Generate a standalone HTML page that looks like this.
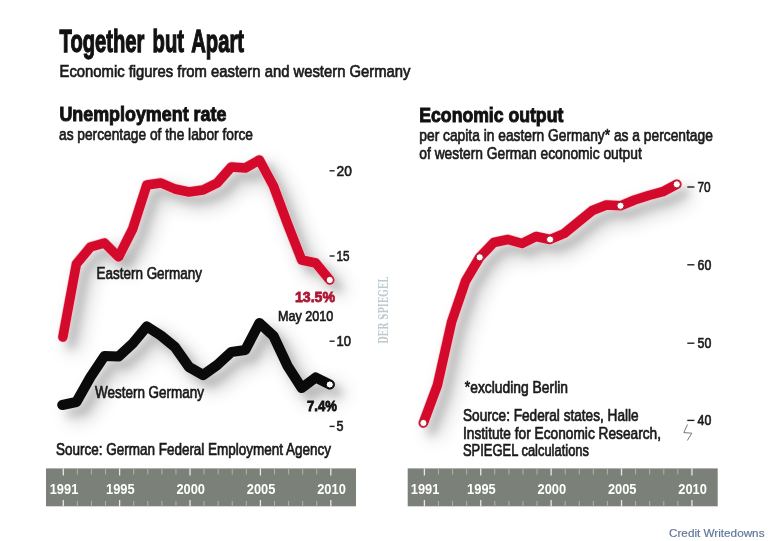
<!DOCTYPE html>
<html lang="en"><head><meta charset="utf-8"><title>Together but Apart</title>
<style>
html,body{margin:0;padding:0;background:#fff;}
body{width:768px;height:541px;overflow:hidden;font-family:"Liberation Sans",sans-serif;}
svg{display:block;}
</style></head><body>
<svg width="768" height="541" viewBox="0 0 768 541" font-family="'Liberation Sans', sans-serif">
<defs>
<filter id="sh" x="-40%" y="-40%" width="190%" height="190%">
<feGaussianBlur in="SourceAlpha" stdDeviation="4" result="b1"/>
<feOffset in="b1" dx="7.5" dy="7.5" result="o1"/>
<feComponentTransfer in="o1" result="s1"><feFuncA type="linear" slope="0.17"/></feComponentTransfer>
<feGaussianBlur in="SourceAlpha" stdDeviation="9.5" result="b2"/>
<feOffset in="b2" dx="10" dy="10" result="o2"/>
<feComponentTransfer in="o2" result="s2"><feFuncA type="linear" slope="0.27"/></feComponentTransfer>
<feMerge><feMergeNode in="s2"/><feMergeNode in="s1"/></feMerge>
</filter>
</defs>
<rect width="768" height="541" fill="#ffffff"/>
<!-- shadows -->
<g fill="none" stroke="#000" stroke-width="9.7" stroke-linejoin="round" stroke-linecap="round" filter="url(#sh)">
<polyline points="62.9,337.0 76.4,264.0 90.5,247.0 104.5,243.0 118.6,257.0 132.7,229.0 146.8,185.0 160.9,183.0 174.9,189.0 189.0,192.0 203.1,190.0 217.2,183.0 231.3,167.0 245.3,168.0 259.4,160.0 273.5,186.0 287.6,224.0 301.7,260.0 315.7,263.0 329.8,280.0"/>
<polyline points="62.3,405.0 76.4,402.0 90.5,377.0 104.5,356.0 118.6,356.5 132.7,343.5 146.8,326.5 160.9,335.5 174.9,347.0 189.0,367.0 203.1,375.0 217.2,365.0 231.3,352.0 245.3,350.0 259.4,323.0 273.5,336.0 287.6,366.0 301.7,388.0 315.7,377.5 329.8,384.5"/>
<polyline points="423.4,423.0 437.5,385.0 451.6,322.0 465.6,281.0 479.7,257.3 493.8,242.5 507.9,239.5 522.0,243.5 536.0,236.5 550.1,239.5 564.2,233.5 578.3,222.0 592.4,210.5 606.4,205.0 620.5,205.8 634.6,200.0 648.7,195.5 662.8,191.7 676.8,184.3"/>
</g>
<!-- titles -->
<text x="59.6" y="52.3" font-size="32" font-weight="bold" fill="#111" stroke="#111" stroke-width="1.3" textLength="184.4" lengthAdjust="spacingAndGlyphs" word-spacing="4">Together but Apart</text>
<text x="59.5" y="76.8" font-size="17" font-weight="normal" fill="#1a1a1a" stroke="#1a1a1a" stroke-width="0.7" textLength="351" lengthAdjust="spacingAndGlyphs" >Economic figures from eastern and western Germany</text>
<text x="59.4" y="120.8" font-size="21" font-weight="bold" fill="#111" stroke="#111" stroke-width="1.0" textLength="167" lengthAdjust="spacingAndGlyphs" >Unemployment rate</text>
<text x="59" y="140" font-size="17" font-weight="normal" fill="#1a1a1a" stroke="#1a1a1a" stroke-width="0.7" textLength="194" lengthAdjust="spacingAndGlyphs" >as percentage of the labor force</text>
<text x="419.3" y="121.6" font-size="21" font-weight="bold" fill="#111" stroke="#111" stroke-width="1.0" textLength="144" lengthAdjust="spacingAndGlyphs" >Economic output</text>
<text x="419.3" y="140.5" font-size="17" font-weight="normal" fill="#1a1a1a" stroke="#1a1a1a" stroke-width="0.7" textLength="293.5" lengthAdjust="spacingAndGlyphs" >per capita in eastern Germany* as a percentage</text>
<text x="419.3" y="158.5" font-size="17" font-weight="normal" fill="#1a1a1a" stroke="#1a1a1a" stroke-width="0.7" textLength="222.5" lengthAdjust="spacingAndGlyphs" >of western German economic output</text>
<!-- y axis labels left -->
<rect x="329.6" y="170.10" width="5.00" height="1.4" fill="#222"/><text x="336.6" y="175.8" font-size="14" font-weight="normal" fill="#1a1a1a" stroke="#1a1a1a" stroke-width="0.6" textLength="15.3" lengthAdjust="spacingAndGlyphs" >20</text>
<rect x="329.6" y="255.30" width="5.00" height="1.4" fill="#222"/><text x="336.6" y="261.0" font-size="14" font-weight="normal" fill="#1a1a1a" stroke="#1a1a1a" stroke-width="0.6" textLength="13" lengthAdjust="spacingAndGlyphs" >15</text>
<rect x="329.6" y="340.50" width="5.00" height="1.4" fill="#222"/><text x="336.6" y="346.2" font-size="14" font-weight="normal" fill="#1a1a1a" stroke="#1a1a1a" stroke-width="0.6" textLength="14.5" lengthAdjust="spacingAndGlyphs" >10</text>
<rect x="329.6" y="425.70" width="5.00" height="1.4" fill="#222"/><text x="336.6" y="431.4" font-size="14" font-weight="normal" fill="#1a1a1a" stroke="#1a1a1a" stroke-width="0.6" textLength="7" lengthAdjust="spacingAndGlyphs" >5</text>
<!-- y axis labels right -->
<rect x="687.3" y="186.30" width="7.10" height="1.4" fill="#222"/><text x="697.5" y="192.0" font-size="14" font-weight="normal" fill="#1a1a1a" stroke="#1a1a1a" stroke-width="0.6" textLength="13.2" lengthAdjust="spacingAndGlyphs" >70</text>
<rect x="687.3" y="264.10" width="7.10" height="1.4" fill="#222"/><text x="697.5" y="269.8" font-size="14" font-weight="normal" fill="#1a1a1a" stroke="#1a1a1a" stroke-width="0.6" textLength="13.8" lengthAdjust="spacingAndGlyphs" >60</text>
<rect x="687.3" y="342.50" width="7.10" height="1.4" fill="#222"/><text x="697.5" y="348.2" font-size="14" font-weight="normal" fill="#1a1a1a" stroke="#1a1a1a" stroke-width="0.6" textLength="13.8" lengthAdjust="spacingAndGlyphs" >50</text>
<rect x="687.3" y="419.70" width="7.10" height="1.4" fill="#222"/><text x="697.5" y="425.4" font-size="14" font-weight="normal" fill="#1a1a1a" stroke="#1a1a1a" stroke-width="0.6" textLength="13.8" lengthAdjust="spacingAndGlyphs" >40</text>
<path d="M687.5 424.5 L683.8 432.6 L691.8 433.2 L687.3 440.5" fill="none" stroke="#6a6a6a" stroke-width="0.9"/>
<!-- lines -->
<g fill="none" stroke-linejoin="round" stroke-linecap="round">
<polyline points="62.9,337.0 76.4,264.0 90.5,247.0 104.5,243.0 118.6,257.0 132.7,229.0 146.8,185.0 160.9,183.0 174.9,189.0 189.0,192.0 203.1,190.0 217.2,183.0 231.3,167.0 245.3,168.0 259.4,160.0 273.5,186.0 287.6,224.0 301.7,260.0 315.7,263.0 329.8,280.0" stroke="#f9c4c9" stroke-width="10.9"/>
<polyline points="62.9,337.0 76.4,264.0 90.5,247.0 104.5,243.0 118.6,257.0 132.7,229.0 146.8,185.0 160.9,183.0 174.9,189.0 189.0,192.0 203.1,190.0 217.2,183.0 231.3,167.0 245.3,168.0 259.4,160.0 273.5,186.0 287.6,224.0 301.7,260.0 315.7,263.0 329.8,280.0" stroke="#d30a2b" stroke-width="9.5"/>
<polyline points="62.3,405.0 76.4,402.0 90.5,377.0 104.5,356.0 118.6,356.5 132.7,343.5 146.8,326.5 160.9,335.5 174.9,347.0 189.0,367.0 203.1,375.0 217.2,365.0 231.3,352.0 245.3,350.0 259.4,323.0 273.5,336.0 287.6,366.0 301.7,388.0 315.7,377.5 329.8,384.5" stroke="#0a0a0a" stroke-width="10.2"/>
<polyline points="423.4,423.0 437.5,385.0 451.6,322.0 465.6,281.0 479.7,257.3 493.8,242.5 507.9,239.5 522.0,243.5 536.0,236.5 550.1,239.5 564.2,233.5 578.3,222.0 592.4,210.5 606.4,205.0 620.5,205.8 634.6,200.0 648.7,195.5 662.8,191.7 676.8,184.3" stroke="#f9c4c9" stroke-width="10.9"/>
<polyline points="423.4,423.0 437.5,385.0 451.6,322.0 465.6,281.0 479.7,257.3 493.8,242.5 507.9,239.5 522.0,243.5 536.0,236.5 550.1,239.5 564.2,233.5 578.3,222.0 592.4,210.5 606.4,205.0 620.5,205.8 634.6,200.0 648.7,195.5 662.8,191.7 676.8,184.3" stroke="#d30a2b" stroke-width="9.5"/>
</g>
<circle cx="329.8" cy="280.0" r="3.6" fill="#fff" stroke="#a8172f" stroke-width="1"/>
<circle cx="329.8" cy="384.5" r="3.6" fill="#fff" stroke="#000" stroke-width="1"/>
<circle cx="423.4" cy="423.0" r="3.6" fill="#fff" stroke="#a8172f" stroke-width="1"/><circle cx="479.7" cy="257.3" r="3.6" fill="#fff" stroke="#a8172f" stroke-width="1"/><circle cx="550.1" cy="239.5" r="3.6" fill="#fff" stroke="#a8172f" stroke-width="1"/><circle cx="620.5" cy="205.8" r="3.6" fill="#fff" stroke="#a8172f" stroke-width="1"/><circle cx="676.8" cy="184.3" r="3.6" fill="#fff" stroke="#a8172f" stroke-width="1"/>
<!-- labels -->
<text x="96.5" y="279" font-size="16.3" font-weight="normal" fill="#1a1a1a" stroke="#1a1a1a" stroke-width="0.7" textLength="105.5" lengthAdjust="spacingAndGlyphs" >Eastern Germany</text>
<text x="295" y="302" font-size="15.5" font-weight="bold" fill="#ad1834" stroke="#ad1834" stroke-width="0.85" textLength="40" lengthAdjust="spacingAndGlyphs" >13.5%</text>
<text x="278" y="321.3" font-size="15.5" font-weight="normal" fill="#1a1a1a" stroke="#1a1a1a" stroke-width="0.7" textLength="55.3" lengthAdjust="spacingAndGlyphs" >May 2010</text>
<text x="95" y="398" font-size="16.3" font-weight="normal" fill="#1a1a1a" stroke="#1a1a1a" stroke-width="0.7" textLength="109" lengthAdjust="spacingAndGlyphs" >Western Germany</text>
<text x="307" y="410.8" font-size="15.5" font-weight="bold" fill="#111" stroke="#111" stroke-width="0.85" textLength="29.8" lengthAdjust="spacingAndGlyphs" >7.4%</text>
<text x="56" y="455" font-size="16.5" font-weight="normal" fill="#1a1a1a" stroke="#1a1a1a" stroke-width="0.7" textLength="275" lengthAdjust="spacingAndGlyphs" >Source: German Federal Employment Agency</text>
<text x="464.8" y="393" font-size="16.5" font-weight="normal" fill="#1a1a1a" stroke="#1a1a1a" stroke-width="0.7" textLength="103.2" lengthAdjust="spacingAndGlyphs" >*excluding Berlin</text>
<text x="463" y="421.4" font-size="16.5" font-weight="normal" fill="#1a1a1a" stroke="#1a1a1a" stroke-width="0.7" textLength="175.6" lengthAdjust="spacingAndGlyphs" >Source: Federal states, Halle</text>
<text x="463" y="439" font-size="16.5" font-weight="normal" fill="#1a1a1a" stroke="#1a1a1a" stroke-width="0.7" textLength="198" lengthAdjust="spacingAndGlyphs" >Institute for Economic Research,</text>
<text x="463" y="455.5" font-size="16.5" font-weight="normal" fill="#1a1a1a" stroke="#1a1a1a" stroke-width="0.7" textLength="126" lengthAdjust="spacingAndGlyphs" >SPIEGEL calculations</text>
<text transform="translate(387.8,343.8) rotate(-90)" font-size="12.5" font-weight="bold" fill="#bfcacf" textLength="67" lengthAdjust="spacingAndGlyphs" font-family="'DejaVu Serif', 'Liberation Serif', serif">DER SPIEGEL</text>
<!-- axes -->
<rect x="46" y="468.4" width="310" height="37.9" fill="#7b8078"/>
<rect x="62.65" y="468.4" width="1.3" height="7.1" fill="#e6e8e3"/>
<rect x="62.65" y="500.0" width="1.3" height="6.5" fill="#e6e8e3"/>
<rect x="76.83" y="468.4" width="1.1" height="6.1" fill="#aab0a7"/>
<rect x="76.83" y="501.0" width="1.1" height="5.5" fill="#aab0a7"/>
<rect x="90.91" y="468.4" width="1.1" height="6.1" fill="#aab0a7"/>
<rect x="90.91" y="501.0" width="1.1" height="5.5" fill="#aab0a7"/>
<rect x="104.99" y="468.4" width="1.1" height="6.1" fill="#aab0a7"/>
<rect x="104.99" y="501.0" width="1.1" height="5.5" fill="#aab0a7"/>
<rect x="118.97" y="468.4" width="1.3" height="7.1" fill="#e6e8e3"/>
<rect x="118.97" y="500.0" width="1.3" height="6.5" fill="#e6e8e3"/>
<rect x="133.15" y="468.4" width="1.1" height="6.1" fill="#aab0a7"/>
<rect x="133.15" y="501.0" width="1.1" height="5.5" fill="#aab0a7"/>
<rect x="147.23" y="468.4" width="1.1" height="6.1" fill="#aab0a7"/>
<rect x="147.23" y="501.0" width="1.1" height="5.5" fill="#aab0a7"/>
<rect x="161.31" y="468.4" width="1.1" height="6.1" fill="#aab0a7"/>
<rect x="161.31" y="501.0" width="1.1" height="5.5" fill="#aab0a7"/>
<rect x="175.39" y="468.4" width="1.1" height="6.1" fill="#aab0a7"/>
<rect x="175.39" y="501.0" width="1.1" height="5.5" fill="#aab0a7"/>
<rect x="189.37" y="468.4" width="1.3" height="7.1" fill="#e6e8e3"/>
<rect x="189.37" y="500.0" width="1.3" height="6.5" fill="#e6e8e3"/>
<rect x="203.55" y="468.4" width="1.1" height="6.1" fill="#aab0a7"/>
<rect x="203.55" y="501.0" width="1.1" height="5.5" fill="#aab0a7"/>
<rect x="217.63" y="468.4" width="1.1" height="6.1" fill="#aab0a7"/>
<rect x="217.63" y="501.0" width="1.1" height="5.5" fill="#aab0a7"/>
<rect x="231.71" y="468.4" width="1.1" height="6.1" fill="#aab0a7"/>
<rect x="231.71" y="501.0" width="1.1" height="5.5" fill="#aab0a7"/>
<rect x="245.79" y="468.4" width="1.1" height="6.1" fill="#aab0a7"/>
<rect x="245.79" y="501.0" width="1.1" height="5.5" fill="#aab0a7"/>
<rect x="259.77" y="468.4" width="1.3" height="7.1" fill="#e6e8e3"/>
<rect x="259.77" y="500.0" width="1.3" height="6.5" fill="#e6e8e3"/>
<rect x="273.95" y="468.4" width="1.1" height="6.1" fill="#aab0a7"/>
<rect x="273.95" y="501.0" width="1.1" height="5.5" fill="#aab0a7"/>
<rect x="288.03" y="468.4" width="1.1" height="6.1" fill="#aab0a7"/>
<rect x="288.03" y="501.0" width="1.1" height="5.5" fill="#aab0a7"/>
<rect x="302.11" y="468.4" width="1.1" height="6.1" fill="#aab0a7"/>
<rect x="302.11" y="501.0" width="1.1" height="5.5" fill="#aab0a7"/>
<rect x="316.19" y="468.4" width="1.1" height="6.1" fill="#aab0a7"/>
<rect x="316.19" y="501.0" width="1.1" height="5.5" fill="#aab0a7"/>
<rect x="330.17" y="468.4" width="1.3" height="7.1" fill="#e6e8e3"/>
<rect x="330.17" y="500.0" width="1.3" height="6.5" fill="#e6e8e3"/>
<text x="49.7" y="493.5" font-size="14.5" font-weight="bold" fill="#ffffff" textLength="28.6" lengthAdjust="spacingAndGlyphs">1991</text>
<text x="106.0" y="493.5" font-size="14.5" font-weight="bold" fill="#ffffff" textLength="28.6" lengthAdjust="spacingAndGlyphs">1995</text>
<text x="176.4" y="493.5" font-size="14.5" font-weight="bold" fill="#ffffff" textLength="28.6" lengthAdjust="spacingAndGlyphs">2000</text>
<text x="246.8" y="493.5" font-size="14.5" font-weight="bold" fill="#ffffff" textLength="28.6" lengthAdjust="spacingAndGlyphs">2005</text>
<text x="317.2" y="493.5" font-size="14.5" font-weight="bold" fill="#ffffff" textLength="28.6" lengthAdjust="spacingAndGlyphs">2010</text>
<rect x="407.7" y="468.4" width="310.00000000000006" height="37.9" fill="#7b8078"/>
<rect x="423.75" y="468.4" width="1.3" height="7.1" fill="#e6e8e3"/>
<rect x="423.75" y="500.0" width="1.3" height="6.5" fill="#e6e8e3"/>
<rect x="437.93" y="468.4" width="1.1" height="6.1" fill="#aab0a7"/>
<rect x="437.93" y="501.0" width="1.1" height="5.5" fill="#aab0a7"/>
<rect x="452.01" y="468.4" width="1.1" height="6.1" fill="#aab0a7"/>
<rect x="452.01" y="501.0" width="1.1" height="5.5" fill="#aab0a7"/>
<rect x="466.09" y="468.4" width="1.1" height="6.1" fill="#aab0a7"/>
<rect x="466.09" y="501.0" width="1.1" height="5.5" fill="#aab0a7"/>
<rect x="480.07" y="468.4" width="1.3" height="7.1" fill="#e6e8e3"/>
<rect x="480.07" y="500.0" width="1.3" height="6.5" fill="#e6e8e3"/>
<rect x="494.25" y="468.4" width="1.1" height="6.1" fill="#aab0a7"/>
<rect x="494.25" y="501.0" width="1.1" height="5.5" fill="#aab0a7"/>
<rect x="508.33" y="468.4" width="1.1" height="6.1" fill="#aab0a7"/>
<rect x="508.33" y="501.0" width="1.1" height="5.5" fill="#aab0a7"/>
<rect x="522.41" y="468.4" width="1.1" height="6.1" fill="#aab0a7"/>
<rect x="522.41" y="501.0" width="1.1" height="5.5" fill="#aab0a7"/>
<rect x="536.49" y="468.4" width="1.1" height="6.1" fill="#aab0a7"/>
<rect x="536.49" y="501.0" width="1.1" height="5.5" fill="#aab0a7"/>
<rect x="550.47" y="468.4" width="1.3" height="7.1" fill="#e6e8e3"/>
<rect x="550.47" y="500.0" width="1.3" height="6.5" fill="#e6e8e3"/>
<rect x="564.65" y="468.4" width="1.1" height="6.1" fill="#aab0a7"/>
<rect x="564.65" y="501.0" width="1.1" height="5.5" fill="#aab0a7"/>
<rect x="578.73" y="468.4" width="1.1" height="6.1" fill="#aab0a7"/>
<rect x="578.73" y="501.0" width="1.1" height="5.5" fill="#aab0a7"/>
<rect x="592.81" y="468.4" width="1.1" height="6.1" fill="#aab0a7"/>
<rect x="592.81" y="501.0" width="1.1" height="5.5" fill="#aab0a7"/>
<rect x="606.89" y="468.4" width="1.1" height="6.1" fill="#aab0a7"/>
<rect x="606.89" y="501.0" width="1.1" height="5.5" fill="#aab0a7"/>
<rect x="620.87" y="468.4" width="1.3" height="7.1" fill="#e6e8e3"/>
<rect x="620.87" y="500.0" width="1.3" height="6.5" fill="#e6e8e3"/>
<rect x="635.05" y="468.4" width="1.1" height="6.1" fill="#aab0a7"/>
<rect x="635.05" y="501.0" width="1.1" height="5.5" fill="#aab0a7"/>
<rect x="649.13" y="468.4" width="1.1" height="6.1" fill="#aab0a7"/>
<rect x="649.13" y="501.0" width="1.1" height="5.5" fill="#aab0a7"/>
<rect x="663.21" y="468.4" width="1.1" height="6.1" fill="#aab0a7"/>
<rect x="663.21" y="501.0" width="1.1" height="5.5" fill="#aab0a7"/>
<rect x="677.29" y="468.4" width="1.1" height="6.1" fill="#aab0a7"/>
<rect x="677.29" y="501.0" width="1.1" height="5.5" fill="#aab0a7"/>
<rect x="691.27" y="468.4" width="1.3" height="7.1" fill="#e6e8e3"/>
<rect x="691.27" y="500.0" width="1.3" height="6.5" fill="#e6e8e3"/>
<text x="410.8" y="493.5" font-size="14.5" font-weight="bold" fill="#ffffff" textLength="28.6" lengthAdjust="spacingAndGlyphs">1991</text>
<text x="467.1" y="493.5" font-size="14.5" font-weight="bold" fill="#ffffff" textLength="28.6" lengthAdjust="spacingAndGlyphs">1995</text>
<text x="537.5" y="493.5" font-size="14.5" font-weight="bold" fill="#ffffff" textLength="28.6" lengthAdjust="spacingAndGlyphs">2000</text>
<text x="607.9" y="493.5" font-size="14.5" font-weight="bold" fill="#ffffff" textLength="28.6" lengthAdjust="spacingAndGlyphs">2005</text>
<text x="678.3" y="493.5" font-size="14.5" font-weight="bold" fill="#ffffff" textLength="28.6" lengthAdjust="spacingAndGlyphs">2010</text>
<text x="669" y="537" font-size="11.5" fill="#62789a" stroke="#62789a" stroke-width="0.2" textLength="95.5" lengthAdjust="spacingAndGlyphs">Credit Writedowns</text>
</svg>
</body></html>
